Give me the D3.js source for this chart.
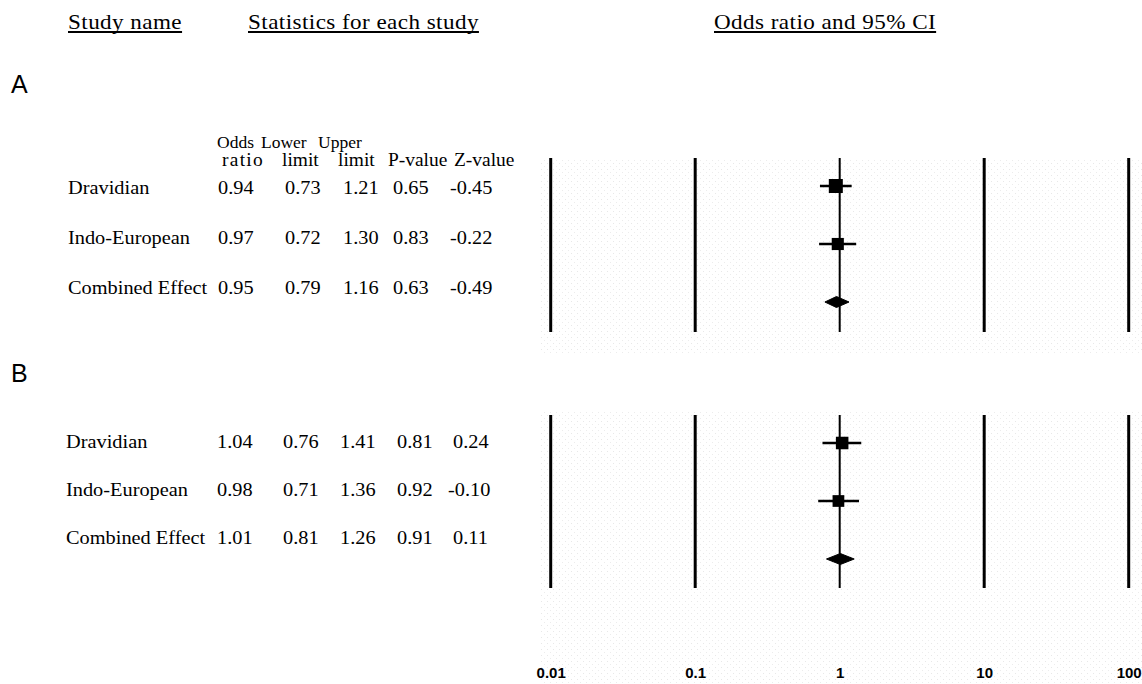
<!DOCTYPE html>
<html><head><meta charset="utf-8">
<script src="https://cdn.jsdelivr.net/npm/d3@7"></script>
<style>
html,body{margin:0;padding:0;background:#fff;}
svg{display:block;}
.serif{font-family:"Liberation Serif","Times New Roman",serif;fill:#000;}
.sans{font-family:"Liberation Sans",Arial,sans-serif;fill:#000;}
</style></head>
<body>
<svg id="chart" width="1142" height="684"></svg>
<script>
// ---- data ----
const studyNames = ["Dravidian", "Indo-European", "Combined Effect"];
const colHeadTop = ["Odds", "Lower", "Upper"];
const colHeadBottom = ["ratio", "limit", "limit", "P-value", "Z-value"];
const headerTitles = ["Study name", "Statistics for each study", "Odds ratio and 95% CI"];

const orA    = [0.94, 0.97, 0.95];
const lowerA = [0.73, 0.72, 0.79];
const upperA = [1.21, 1.30, 1.16];
const pA     = ["0.65", "0.83", "0.63"];
const zA     = ["-0.45", "-0.22", "-0.49"];
const weightA = [1.0, 0.75];

const orB    = [1.04, 0.98, 1.01];
const lowerB = [0.76, 0.71, 0.81];
const upperB = [1.41, 1.36, 1.26];
const pB     = ["0.81", "0.92", "0.91"];
const zB     = ["0.24", "-0.10", "0.11"];
const weightB = [0.8, 0.7];

const tickValues = [0.01, 0.1, 1, 10, 100];
const tickLabels = ["0.01", "0.1", "1", "10", "100"];

// ---- drawing ----
const svg = d3.select("#chart");
const x = d3.scaleLog().domain([0.01, 100]).range([550.7, 1128.7]);
const sq = d3.scaleSqrt().domain([0, 1]).range([0, 14]);

// stipple background
const defs = svg.append("defs");
const pat = defs.append("pattern").attr("id", "dots").attr("width", 6).attr("height", 6)
  .attr("patternUnits", "userSpaceOnUse");
pat.append("rect").attr("x", 1).attr("y", 1).attr("width", 1).attr("height", 1).attr("fill", "#e8e8e8");
pat.append("rect").attr("x", 4).attr("y", 4).attr("width", 1).attr("height", 1).attr("fill", "#ececec");
svg.append("rect").attr("x", 540).attr("y", 160).attr("width", 602).attr("height", 195).attr("fill", "url(#dots)");
svg.append("rect").attr("x", 540).attr("y", 410).attr("width", 602).attr("height", 274).attr("fill", "url(#dots)");

function stext(g, str, xx, yy, size, opts = {}) {
  const sx = opts.sx || 1.1;
  const t = g.append("text").attr("class", opts.cls || "serif")
    .attr("transform", `translate(${xx},${yy}) scale(${sx},1)`)
    .style("font-size", size + "px").text(str);
  if (opts.weight) t.style("font-weight", opts.weight);
  if (opts.anchor) t.attr("text-anchor", opts.anchor);
  if (opts.ls) t.style("letter-spacing", opts.ls);
  return t;
}

// header
const hdr = svg.append("g");
const headerX = [68, 248, 714];
headerTitles.forEach((s, i) => {
  const t = stext(hdr, s, headerX[i], 29, 21, {sx: 1.1, ls: "0.4px"});
  const w = t.node().getComputedTextLength() * 1.1;
  hdr.append("line").attr("x1", headerX[i]).attr("x2", headerX[i] + w).attr("y1", 32).attr("y2", 32)
    .attr("stroke", "#000").attr("stroke-width", 2);
});

// panel labels
stext(svg, "A", 11, 93, 25, {cls: "sans", sx: 1.0});
stext(svg, "B", 11, 382, 25, {cls: "sans", sx: 1.0});

// column headers (panel A only)
const topX = [217, 261, 318];
const botX = [222, 282, 338, 388, 454];
colHeadTop.forEach((s, i) => stext(svg, s, topX[i], 148, 17.5, {sx: 1.0, ls: "0px"}));
colHeadBottom.forEach((s, i) => stext(svg, s, botX[i], 166, 18, {sx: 1.08, ls: i === 0 ? "1.2px" : "0px"}));

function panel(cfg) {
  const g = svg.append("g");
  const yMark = d3.scalePoint().domain(studyNames).range(cfg.markRange);
  const yText = d3.scalePoint().domain(studyNames).range(cfg.textRange);

  // table text
  studyNames.forEach((name, i) => {
    const yy = yText(name) + 6.5;
    stext(g, name, cfg.nameX, yy, 18.5);
    const vals = [cfg.or[i].toFixed(2), cfg.lower[i].toFixed(2), cfg.upper[i].toFixed(2), cfg.p[i], cfg.z[i]];
    vals.forEach((v, j) => {
      let xx = cfg.cols[j];
      if (v.startsWith("-") && j === 4) xx -= cfg.negShift;
      stext(g, v, xx, yy, 18.5);
    });
  });

  // vertical reference lines
  g.selectAll("line.grid").data(tickValues).join("line")
    .attr("class", "grid")
    .attr("x1", d => x(d)).attr("x2", d => x(d))
    .attr("y1", cfg.lineTop).attr("y2", cfg.lineBottom)
    .attr("stroke", "#000").attr("stroke-width", d => d === 1 ? 2 : 3);

  // whiskers + squares
  const studies = studyNames.slice(0, 2);
  studies.forEach((name, i) => {
    g.append("line")
      .attr("x1", x(cfg.lower[i])).attr("x2", x(cfg.upper[i]))
      .attr("y1", yMark(name)).attr("y2", yMark(name))
      .attr("stroke", "#000").attr("stroke-width", 2.6);
    const s = sq(cfg.weight[i]);
    g.append("rect")
      .attr("x", x(cfg.or[i]) - s / 2).attr("y", yMark(name) - s / 2)
      .attr("width", s).attr("height", s).attr("fill", "#000");
  });

  // diamond
  const c = studyNames[2];
  const yc = yMark(c);
  const h = 5.5;
  g.append("path")
    .attr("d", `M${x(cfg.lower[2])},${yc} L${x(cfg.or[2])},${yc - h} L${x(cfg.upper[2])},${yc} L${x(cfg.or[2])},${yc + h} Z`)
    .attr("fill", "#000").attr("stroke", "#000").attr("stroke-width", 1);
}

panel({or: orA, lower: lowerA, upper: upperA, p: pA, z: zA, weight: weightA,
  markRange: [186, 302], textRange: [187, 287], nameX: 68,
  cols: [218, 285, 343, 393, 450], negShift: 0,
  lineTop: 158, lineBottom: 332});

panel({or: orB, lower: lowerB, upper: upperB, p: pB, z: zB, weight: weightB,
  markRange: [443, 559], textRange: [441, 537], nameX: 66,
  cols: [217, 283, 340, 397, 453], negShift: 5,
  lineTop: 415, lineBottom: 588});

// axis labels
const axis = d3.axisBottom(x).tickValues(tickValues)
  .tickFormat((d, i) => tickLabels[i]).tickSize(0).tickPadding(0);
const ax = svg.append("g").attr("transform", "translate(0,667)")
  .attr("font-size", 15).attr("font-weight", "bold")
  .attr("font-family", "Liberation Sans, Arial, sans-serif")
  .call(axis);
ax.attr("font-size", 15).attr("font-family", "Liberation Sans, Arial, sans-serif");
ax.select(".domain").remove();
ax.selectAll("text")
  .attr("font-size", 15).attr("font-weight", "bold").attr("fill", "#000")
  .attr("dy", "0.71em");
</script>
</body></html>
